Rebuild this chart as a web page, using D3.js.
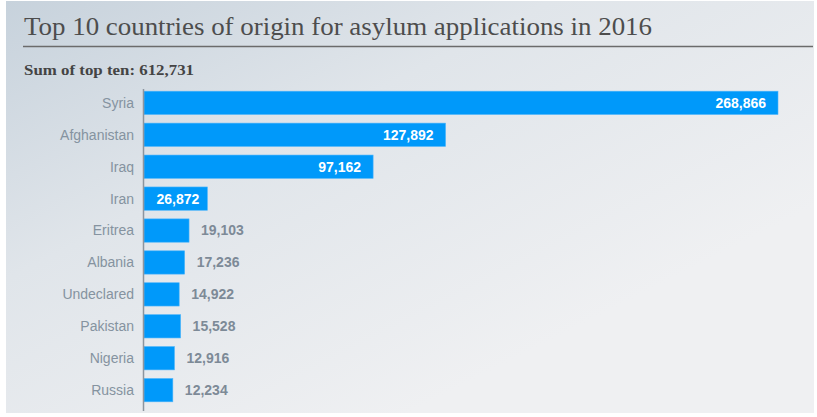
<html>
<head>
<script src="https://d3js.org/d3.v7.min.js"></script>
<style>
  body { margin: 0; background: #fff; }
</style>
</head>
<body>
<svg width="817" height="417"></svg>
<script>
const countries = ['Syria', 'Afghanistan', 'Iraq', 'Iran', 'Eritrea', 'Albania', 'Undeclared', 'Pakistan', 'Nigeria', 'Russia'];
const applications = [268866, 127892, 97162, 26872, 19103, 17236, 14922, 15528, 12916, 12234];
const title = 'Top 10 countries of origin for asylum applications in 2016';
const subtitle = 'Sum of top ten: 612,731';

const data = countries.map((c, i) => ({ country: c, value: applications[i] }));
const svg = d3.select('svg');

// background panel with soft diagonal gradient
const grad = svg.append('defs').append('linearGradient')
    .attr('id', 'bg').attr('x1', '0').attr('y1', '0').attr('x2', '0.75').attr('y2', '0.75');
grad.append('stop').attr('offset', '0').attr('stop-color', '#c7d2dc');
grad.append('stop').attr('offset', '0.45').attr('stop-color', '#e0e5ea');
grad.append('stop').attr('offset', '1').attr('stop-color', '#eff0f2');
svg.append('rect').attr('x', 6).attr('y', 1).attr('width', 808).attr('height', 412).attr('fill', 'url(#bg)');

svg.append('text').attr('x', 24).attr('y', 35)
    .attr('font-family', '"Liberation Serif", "Times New Roman", serif').attr('font-size', 26)
    .attr('textLength', 628).attr('lengthAdjust', 'spacingAndGlyphs')
    .attr('fill', '#4d4d4d').text(title);
svg.append('line').attr('x1', 23).attr('x2', 813).attr('y1', 46.5).attr('y2', 46.5)
    .attr('stroke', '#6b6b6b').attr('stroke-width', 1.5);
svg.append('text').attr('x', 24).attr('y', 75)
    .attr('font-family', '"Liberation Serif", "Times New Roman", serif').attr('font-size', 14).attr('font-weight', 'bold')
    .attr('textLength', 170).attr('lengthAdjust', 'spacingAndGlyphs')
    .attr('fill', '#444').text(subtitle);

const x0 = 144;
const x = d3.scaleLinear().domain([0, 268866]).range([x0, 778]);
const y = d3.scaleBand().domain(countries).range([88, 405]).paddingInner(0.27).paddingOuter(0.1);

const g = svg.append('g');
g.selectAll('rect.bar').data(data).join('rect')
    .attr('class', 'bar')
    .attr('x', x0)
    .attr('y', d => y(d.country))
    .attr('width', d => x(d.value) - x0)
    .attr('height', y.bandwidth())
    .attr('fill', '#0099fa')
    .attr('stroke', '#4db5fb').attr('stroke-width', 0.6);

const fmt = d3.format(',');
g.selectAll('text.cat').data(data).join('text')
    .attr('class', 'cat')
    .attr('x', 134)
    .attr('y', d => y(d.country) + y.bandwidth() / 2)
    .attr('dy', '0.35em')
    .attr('text-anchor', 'end')
    .attr('font-family', 'Arial, "Liberation Sans", sans-serif').attr('font-size', 14)
    .attr('fill', '#8593a0')
    .text(d => d.country);

g.selectAll('text.val').data(data).join('text')
    .attr('class', 'val')
    .attr('x', d => d.value > 25000 ? x(d.value) - (d.value > 50000 ? 12 : 8) : x(d.value) + 12)
    .attr('y', d => y(d.country) + y.bandwidth() / 2)
    .attr('dy', '0.35em')
    .attr('text-anchor', d => d.value > 25000 ? 'end' : 'start')
    .attr('font-family', 'Arial, "Liberation Sans", sans-serif').attr('font-size', 14).attr('font-weight', 'bold')
    .attr('fill', d => d.value > 25000 ? '#fff' : '#7d8a97')
    .text(d => fmt(d.value));

// axis line
svg.append('line').attr('x1', 143.5).attr('x2', 143.5).attr('y1', 89).attr('y2', 411)
    .attr('stroke', '#8c959e').attr('stroke-width', 1.5);
</script>
</body>
</html>
